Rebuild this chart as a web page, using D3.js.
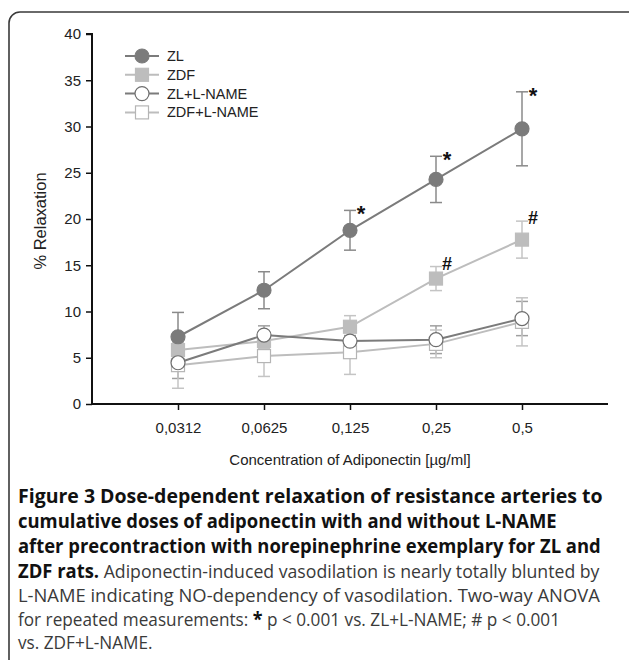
<!DOCTYPE html>
<html>
<head>
<meta charset="utf-8">
<script src="https://cdn.jsdelivr.net/npm/d3@7"></script>
<style>
  html, body { margin: 0; padding: 0; background: #fff; }
  svg { display: block; }
</style>
</head>
<body>
<svg id="chart" width="629" height="660"></svg>
<script>
// ---- data ----
const categories = ["0,0312", "0,0625", "0,125", "0,25", "0,5"];
const seriesNames = ["ZL", "ZDF", "ZL+L-NAME", "ZDF+L-NAME"];
const zlValues      = [7.27, 12.3, 18.78, 24.28, 29.75];
const zlErrors      = [2.63, 2.0, 2.15, 2.5, 4.0];
const zdfValues     = [5.83, 6.8, 8.35, 13.56, 17.77];
const zdfErrors     = [0.7, 0.8, 1.2, 1.3, 2.0];
const zlNameValues  = [4.46, 7.45, 6.8, 6.95, 9.24];
const zlNameErrors  = [1.7, 1.0, 0.6, 1.5, 1.85];
const zdfNameValues = [4.2, 5.18, 5.6, 6.5, 8.88];
const zdfNameErrors = [2.5, 2.2, 2.4, 1.5, 2.6];
const yTicks = [0, 5, 10, 15, 20, 25, 30, 35, 40];
const starMarks = [{ series: 0, index: 2, sym: "*" }, { series: 0, index: 3, sym: "*" }, { series: 0, index: 4, sym: "*" },
                   { series: 1, index: 3, sym: "#" }, { series: 1, index: 4, sym: "#" }];
const yTitle = "% Relaxation";
const xTitle = "Concentration of Adiponectin [µg/ml]";

const series = [
  { name: seriesNames[0], values: zlValues, errors: zlErrors, shape: "circle", line: "#7b7b7b", fill: "#7b7b7b", stroke: "#7b7b7b", err: "#8a8a8a" },
  { name: seriesNames[1], values: zdfValues, errors: zdfErrors, shape: "square", line: "#bdbdbd", fill: "#bdbdbd", stroke: "#bdbdbd", err: "#c4c4c4" },
  { name: seriesNames[2], values: zlNameValues, errors: zlNameErrors, shape: "circle", line: "#7b7b7b", fill: "#ffffff", stroke: "#6e6e6e", err: "#a0a0a0" },
  { name: seriesNames[3], values: zdfNameValues, errors: zdfNameErrors, shape: "square", line: "#bdbdbd", fill: "#ffffff", stroke: "#b5b5b5", err: "#c4c4c4" }
];

const svg = d3.select("#chart");

// frame
svg.append("rect").attr("x", 9).attr("y", 12).attr("width", 640).attr("height", 700)
  .attr("rx", 11).attr("fill", "none").attr("stroke", "#3a3a3a").attr("stroke-width", 1.6);

const plot = { left: 92, right: 608, top: 34, bottom: 404 };
const x = d3.scalePoint().domain(categories).range([plot.left, plot.right]).padding(1);
const y = d3.scaleLinear().domain([0, 40]).range([plot.bottom, plot.top]);

const axisFont = "Liberation Sans, Arial, sans-serif";

// y axis
const gy = svg.append("g").attr("transform", `translate(${plot.left},0)`)
  .call(d3.axisLeft(y).tickValues(yTicks).tickSize(6).tickPadding(5));
gy.select(".domain").attr("stroke", "#111").attr("stroke-width", 2).attr("d", `M-6,${y(40)}H0V${plot.bottom}`);
gy.selectAll(".tick line").attr("stroke", "#111").attr("stroke-width", 1.5);
gy.selectAll(".tick text").attr("font-family", axisFont).attr("font-size", 15).attr("fill", "#222");

// x axis
const gx = svg.append("g").attr("transform", `translate(0,${plot.bottom})`)
  .call(d3.axisBottom(x).tickSize(6).tickPadding(12));
gx.select(".domain").attr("stroke", "#111").attr("stroke-width", 2).attr("d", `M${plot.left},0H${plot.right}`);
gx.selectAll(".tick line").attr("stroke", "#111").attr("stroke-width", 1.5);
gx.selectAll(".tick text").attr("font-family", axisFont).attr("font-size", 15).attr("fill", "#222");

// axis titles
svg.append("text").attr("transform", `translate(46,${(plot.top + plot.bottom) / 2 + 2}) rotate(-90)`)
  .attr("text-anchor", "middle").attr("font-family", axisFont).attr("font-size", 16.5).attr("fill", "#222").text(yTitle);
svg.append("text").attr("x", 350).attr("y", 465).attr("text-anchor", "middle")
  .attr("font-family", axisFont).attr("font-size", 15).attr("fill", "#222").text(xTitle);

// error bars
const capW = 6;
series.forEach(s => {
  const g = svg.append("g");
  s.values.forEach((v, i) => {
    const cx = x(categories[i]);
    const y1 = y(v + s.errors[i]), y0 = y(v - s.errors[i]);
    g.append("line").attr("x1", cx).attr("x2", cx).attr("y1", y1).attr("y2", y0).attr("stroke", s.err).attr("stroke-width", 1.5);
    g.append("line").attr("x1", cx - capW).attr("x2", cx + capW).attr("y1", y1).attr("y2", y1).attr("stroke", s.err).attr("stroke-width", 1.5);
    g.append("line").attr("x1", cx - capW).attr("x2", cx + capW).attr("y1", y0).attr("y2", y0).attr("stroke", s.err).attr("stroke-width", 1.5);
  });
});

// lines
const lineGen = d3.line().x((d, i) => x(categories[i])).y(d => y(d));
[1, 3, 0, 2].forEach(k => {
  const s = series[k];
  svg.append("path").attr("d", lineGen(s.values)).attr("fill", "none").attr("stroke", s.line).attr("stroke-width", 2);
});

// markers
function marker(g, shape, cx, cy, s) {
  if (shape === "circle") {
    g.append("circle").attr("cx", cx).attr("cy", cy).attr("r", 7).attr("fill", s.fill).attr("stroke", s.stroke).attr("stroke-width", 1.2);
  } else {
    g.append("rect").attr("x", cx - 6.5).attr("y", cy - 6.5).attr("width", 13).attr("height", 13).attr("fill", s.fill).attr("stroke", s.stroke).attr("stroke-width", 1.2);
  }
}
[1, 3, 0, 2].forEach(k => {
  const s = series[k];
  const g = svg.append("g");
  s.values.forEach((v, i) => marker(g, s.shape, x(categories[i]), y(v), s));
});

// significance symbols
starMarks.forEach(m => {
  const s = series[m.series];
  const v = s.values[m.index] + s.errors[m.index];
  svg.append("text").attr("x", x(categories[m.index]) + 11).attr("y", y(v) + (m.sym === "*" ? 11 : 3))
    .attr("text-anchor", "middle").attr("font-family", axisFont).attr("font-weight", "bold")
    .attr("font-size", m.sym === "*" ? 22 : 18).attr("fill", "#111").text(m.sym);
});

// legend
const legend = svg.append("g");
series.forEach((s, i) => {
  const ly = 56 + i * 18.8;
  legend.append("line").attr("x1", 125).attr("x2", 159).attr("y1", ly).attr("y2", ly).attr("stroke", s.line).attr("stroke-width", 2);
  marker(legend, s.shape, 142, ly, s);
  legend.append("text").attr("x", 167).attr("y", ly + 5).attr("font-family", axisFont).attr("font-size", 14.5).attr("fill", "#222").text(s.name);
});

// caption
const capFont = "Open Sans, sans-serif";
const capLines = [
  [{ t: "Figure 3 Dose-dependent relaxation of resistance arteries to", b: true }],
  [{ t: "cumulative doses of adiponectin with and without L-NAME", b: true }],
  [{ t: "after precontraction with norepinephrine exemplary for ZL and", b: true }],
  [{ t: "ZDF rats.", b: true }, { t: " Adiponectin-induced vasodilation is nearly totally blunted by", b: false }],
  [{ t: "L-NAME indicating NO-dependency of vasodilation. Two-way ANOVA", b: false }],
  [{ t: "for repeated measurements: ", b: false }, { t: "*", b: true }, { t: " p < 0.001 vs. ZL+L-NAME; # p < 0.001", b: false }],
  [{ t: "vs. ZDF+L-NAME.", b: false }]
];
const capCenters = [497, 522, 547, 572, 596, 620, 643];
const capWidths = [585, 539, 583, 582, 582, 542, 0];
const boldSize = 19.4, normSize = 18.6;
const capX = 18;
let lastScale = 1;
capLines.forEach((ln, i) => {
  const t = svg.append("text").attr("x", capX).attr("y", capCenters[i] + 6.5).attr("font-family", capFont).attr("fill", "#1a1a1a");
  ln.forEach(p => {
    t.append("tspan").attr("font-weight", p.b ? "bold" : "normal")
      .attr("font-size", p.b ? boldSize : normSize).attr("fill", p.b ? "#111" : "#3a3a3a").text(p.t);
  });
  const w = t.node().getComputedTextLength();
  const sc = capWidths[i] ? capWidths[i] / w : lastScale;
  lastScale = sc;
  t.attr("transform", `translate(${capX},0) scale(${sc},1) translate(${-capX},0)`);
});
</script>
</body>
</html>
